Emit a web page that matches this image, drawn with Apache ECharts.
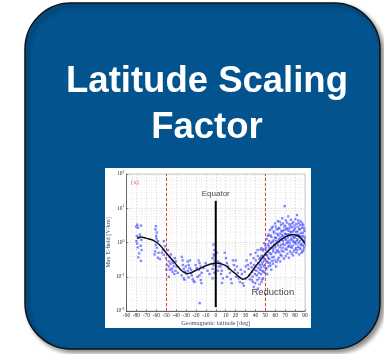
<!DOCTYPE html>
<html>
<head>
<meta charset="utf-8">
<script src="https://cdn.jsdelivr.net/npm/echarts@6/dist/echarts.min.js"></script>
<style>
html,body{margin:0;padding:0;background:#ffffff;}
#chart{width:384px;height:354px;}
</style>
</head>
<body>
<div id="chart"></div>
<script>
// ---- Data ----
const titleLines = ['Latitude Scaling', 'Factor'];
const xTickMin = -90, xTickMax = 90, xTickStep = 10;
const yMin = 0.01, yMax = 100;
const xAxisName = 'Geomagnetic latitude [deg]';
const yAxisName = 'Max E-field [V/km]';
const dashedLatitudes = [-50, 50];
const equatorLine = [[0, 16.5], [0, 0.013]];
// fitted curve (latitude, E-field)
const curveLat = [-79, -76, -70, -62, -56, -50, -45, -41, -37, -33, -29, -25, -20, -15, -10, -5, 0, 5, 10, 15, 20, 24, 28, 32, 36, 40, 45, 50, 55, 60, 65, 70, 74, 78, 82, 86, 90];
const curveE   = [1.28, 1.45, 1.32, 1.12, 0.82, 0.5, 0.34, 0.25, 0.18, 0.14, 0.125, 0.13, 0.155, 0.18, 0.21, 0.235, 0.25, 0.24, 0.21, 0.16, 0.122, 0.097, 0.085, 0.097, 0.135, 0.2, 0.3, 0.46, 0.66, 0.88, 1.15, 1.45, 1.62, 1.72, 1.6, 1.3, 0.93];
// observed maxima, southern high latitudes (latitude, E-field)
const obsSouth = [
[-80.2,2.9],[-79.1,3.3],[-78.4,2.7],[-75.3,3.1],[-79.6,1.55],[-78.2,1.38],[-76.4,1.7],[-75.1,1.2],[-79.3,0.92],[-78.7,0.72],[-75.6,0.8],[-77.2,0.48],[-78.1,0.37],[-75.4,0.29],[-80.0,1.1],[-74.6,0.6],
[-60.3,3.0],[-60.8,2.4],[-59.4,1.95],[-60.1,1.55],[-59.8,1.3],[-58.2,1.1],[-59.3,0.7],[-61.2,0.55],[-58.4,0.36],[-56.3,0.33],[-61.7,0.45],[-60.5,0.85],[-57.6,0.5],
[-52.3,1.1],[-51.2,0.78],[-52.4,0.44],[-50.3,0.35],[-49.2,0.22],[-47.4,0.28],[-47.1,0.2],[-46.3,0.16],[-47.3,0.10],[-45.2,0.45],[-44.4,0.3],[-43.1,0.25],[-42.3,0.2],[-44.2,0.17],[-41.3,0.35],[-40.2,0.28],[-39.4,0.2],[-40.6,0.15],[-38.3,0.13],[-53.2,0.6],[-54.4,0.5],[-48.3,0.6],[-46.4,0.38],[-43.6,0.14],[-45.7,0.24],[-49.8,0.16],[-41.8,0.12]
];
// observed maxima, low latitudes
const obsLow = [
[-34.2,0.38],[-33.4,0.3],[-33.1,0.22],[-32.3,0.17],[-31.2,0.14],[-34.4,0.11],[-32.2,0.09],[-31.4,0.081],[-28.3,0.28],[-27.2,0.22],[-26.4,0.18],[-28.1,0.15],[-25.3,0.13],[-24.2,0.11],[-27.4,0.095],[-23.3,0.085],[-22.2,0.075],[-21.4,0.07],[-26.1,0.3],[-29.3,0.12],[-30.2,0.2],[-24.7,0.16],
[-17.2,0.3],[-16.4,0.25],[-15.3,0.2],[-17.1,0.16],[-14.2,0.13],[-16.3,0.11],[-15.1,0.08],[-14.4,0.065],[-16.2,0.017],[-20.3,0.22],[-19.1,0.18],[-12.4,0.18],[-10.2,0.25],[-8.3,0.15],[-6.2,0.12],[-18.4,0.1],
[-2.3,0.87],[-1.4,0.6],[-2.1,0.45],[-1.2,0.4],[-3.3,0.35],[-1.1,0.3],[-2.4,0.22],[-3.1,0.17],[-1.3,0.13],[-3.2,0.09],[1.2,0.5],[2.3,0.28],[3.1,0.2],[2.2,0.15],
[4.3,0.25],[5.2,0.2],[6.1,0.15],[5.4,0.12],[7.2,0.09],[6.3,0.066],[9.1,0.5],[10.3,0.35],[11.2,0.25],[12.4,0.2],[13.1,0.17],[14.3,0.13],[11.4,0.1],[15.2,0.085],[16.1,0.065],[17.3,0.3],[18.2,0.22],[19.4,0.16],[20.1,0.3],[21.3,0.2],[22.2,0.13],[20.4,0.1],[23.1,0.09],[24.3,0.07],[25.2,0.16],[26.4,0.12],[27.1,0.065],[28.3,0.055],[29.2,0.14],[30.1,0.2],[30.4,0.09],
[31.2,0.3],[32.3,0.22],[33.1,0.17],[33.6,0.11],[34.2,0.085],[35.1,0.45],[35.4,0.25],[36.2,0.19],[36.7,0.14],[37.1,0.1],[37.5,0.07],[38.2,0.35],[38.6,0.22],[39.1,0.16],[39.5,0.12],[40.2,0.5],[40.4,0.3],[40.8,0.2],[41.1,0.15],[41.5,0.11],[41.8,0.08],[42.2,0.6],[42.5,0.4],[42.9,0.25],[43.2,0.18],[43.5,0.13],[43.8,0.09],[44.1,0.33],[44.4,0.22],[44.7,0.16],
[38.3,0.05],[42.4,0.045],[44.2,0.06],[46.2,0.07],[39.8,0.065],[36.4,0.08]
];
// observed maxima, northern high latitudes
const obsNorth = [
[45.4,0.62],[45.9,0.19],[46.3,0.41],[46.8,0.083],[47.2,0.27],[47.6,0.58],[48.1,0.14],[48.5,0.35],[48.9,0.95],[49.3,0.22],[49.7,0.47],[50.2,0.31],[50.6,0.71],[51.1,0.17],[51.4,1.25],[51.8,0.42],[52.3,0.26],[52.6,0.88],[53.0,0.53],[53.4,1.7],[53.9,0.33],[54.2,0.67],[54.7,2.3],[55.1,0.21],[55.5,0.96],[55.8,0.46],[56.2,1.45],[56.6,0.29],[57.1,0.74],[57.4,2.9],[57.9,0.55],[58.3,1.15],[58.6,0.38],[59.0,1.9],[59.5,0.81],[59.8,3.6],[60.3,0.49],[60.7,1.35],[61.1,0.27],[61.4,2.4],[61.9,0.93],[62.3,0.6],[62.6,4.2],[63.0,1.6],[63.5,0.36],[63.8,1.05],[64.2,2.7],[64.7,0.72],[65.1,1.85],[65.4,0.44],[65.9,3.3],[66.3,1.2],[66.6,0.58],[67.0,5.1],[67.5,2.1],[67.8,0.9],[68.2,1.5],[68.7,0.34],[69.1,2.9],[69.4,11.5],[69.9,1.3],[70.3,0.66],[70.6,4.4],[71.0,1.75],[71.5,0.95],[71.8,2.6],[72.2,0.47],[72.7,1.4],[73.1,5.8],[73.4,2.2],[73.9,0.8],[74.3,3.4],[74.6,1.15],[75.0,0.55],[75.5,2.05],[75.8,4.6],[76.2,1.3],[76.7,0.7],[77.1,2.8],[77.4,1.6],[77.9,0.42],[78.3,3.9],[78.6,1.05],[79.0,2.3],[79.5,0.62],[79.8,1.4],[80.3,4.8],[80.7,0.9],[81.1,2.0],[81.4,0.5],[81.9,6.3],[82.3,1.25],[82.6,2.9],[83.0,0.75],[83.5,1.7],[83.8,3.7],[84.2,0.45],[84.7,1.1],[85.1,2.4],[85.4,0.65],[85.9,4.1],[86.3,1.45],[86.6,0.9],[87.0,2.7],[87.5,0.55],[87.8,1.9],[88.2,3.2],[88.7,1.05],[89.1,0.7],[89.4,2.2],[89.8,1.4],
[45.1,0.36],[45.7,0.12],[46.1,0.68],[46.5,0.23],[47.0,0.15],[47.4,0.39],[47.8,0.09],[48.3,0.64],[48.7,0.2],[49.1,0.3],[49.5,0.13],[49.9,0.85],[50.4,0.18],[50.8,0.43],[51.2,0.58],[51.6,0.28],[52.0,0.12],[52.5,1.55],[52.9,0.36],[53.2,0.2],[53.6,0.78],[54.0,1.1],[54.4,0.25],[54.9,0.48],[55.3,1.6],[55.7,0.68],[56.0,0.16],[56.4,2.6],[56.9,0.37],[57.2,1.05],[57.7,0.24],[58.0,0.64],[58.4,2.1],[58.9,0.87],[59.2,0.3],[59.7,1.4],[60.1,0.72],[60.5,2.9],[60.9,0.2],[61.2,1.1],[61.7,0.55],[62.1,1.8],[62.5,0.31],[62.8,0.82],[63.2,2.5],[63.7,1.25],[64.0,0.52],[64.5,4.0],[64.9,0.28],[65.3,1.4],[65.7,0.85],[66.1,2.2],[66.4,0.4],[66.8,1.65],[67.3,0.7],[67.7,3.6],[68.0,1.1],[68.4,0.55],[68.9,2.35],[69.3,0.85],[69.7,1.8],[70.1,3.1],[70.5,0.4],[70.9,1.2],[71.3,2.4],[71.7,0.62],[72.0,3.8],[72.5,1.05],[72.9,0.75],[73.3,1.75],[73.7,0.36],[74.1,2.6],[74.5,0.95],[74.9,1.6],[75.3,3.0],[75.6,0.75],[76.0,1.95],[76.5,0.48],[76.9,3.6],[77.3,1.15],[77.6,0.82],[78.0,2.1],[78.5,1.4],[78.8,0.55],[79.3,3.1],[79.7,1.0],[80.0,2.6],[80.5,1.6],[80.9,0.68],[81.3,3.5],[81.7,1.1],[82.0,0.6],[82.4,2.1],[82.9,1.6],[83.3,4.4],[83.6,0.95],[84.0,2.5],[84.5,0.68],[84.9,1.55],[85.3,3.2],[85.7,0.85],[86.0,1.9],[86.5,0.5],[86.9,1.25],[87.3,3.6],[87.7,0.8],[88.0,1.55],[88.5,0.6],[88.9,2.6],[89.3,1.15],[89.6,0.85]
];
// annotations (text, latitude, E-field)
const annotations = [
  {text: 'Equator', lat: 0, e: 27},
  {text: 'Reduction', lat: 57.5, e: 0.036},
  {text: '(a)', lat: -81.5, e: 57}
];

// ---- Build ----
const curveData = curveLat.map((x, i) => [x, curveE[i]]);
const observations = obsSouth.concat(obsLow, obsNorth);
const minorGrid = [];
for (let k = -2; k < 2; k++) {
  for (let m = 2; m <= 9; m++) minorGrid.push({yAxis: m * Math.pow(10, k)});
}

const chart = echarts.init(document.getElementById('chart'), null, {renderer: 'canvas'});
chart.setOption({
  animation: false,
  backgroundColor: '#ffffff',
  title: {
    text: titleLines.join('\n'),
    left: 202,
    top: 54,
    textAlign: 'center',
    textStyle: {color: '#ffffff', fontFamily: 'Liberation Sans', fontWeight: 'bold', fontSize: 36.5, lineHeight: 46}
  },
  graphic: {
    elements: [
      {type: 'rect', z: -10, shape: {x: 25, y: 3, width: 355, height: 346, r: 46},
       style: {fill: '#02538e', stroke: '#111111', lineWidth: 1.5, shadowBlur: 4, shadowOffsetX: 3, shadowOffsetY: 3, shadowColor: 'rgba(0,0,0,0.45)'}},
      {type: 'rect', z: -9, shape: {x: 105, y: 168, width: 206, height: 160},
       style: {fill: '#ffffff'}}
    ]
  },
  grid: {left: 126.5, right: 79, top: 174, bottom: 43, show: true, borderColor: '#999', borderWidth: 0.5, backgroundColor: 'transparent'},
  xAxis: {
    type: 'value', min: xTickMin, max: xTickMax, interval: xTickStep,
    name: xAxisName, nameLocation: 'middle', nameGap: 9,
    nameTextStyle: {fontFamily: 'Liberation Serif', fontSize: 6.3, color: '#3a4a6a'},
    axisLine: {onZero: false, lineStyle: {color: '#444', width: 0.8}},
    axisTick: {inside: true, length: 2, lineStyle: {color: '#444', width: 0.5}},
    axisLabel: {fontFamily: 'Liberation Serif', fontSize: 5.5, color: '#333', margin: 1.5},
    splitLine: {show: true, lineStyle: {color: '#c8c8c8', width: 0.6, type: [1.5, 1.5]}},
    minorTick: {show: false, splitNumber: 2},
    minorSplitLine: {show: true, lineStyle: {color: '#e2e2e2', width: 0.5, type: [1, 1.5]}}
  },
  yAxis: {
    type: 'log', logBase: 10, min: yMin, max: yMax,
    name: yAxisName, nameLocation: 'middle', nameGap: 13,
    nameTextStyle: {fontFamily: 'Liberation Serif', fontSize: 6.3, color: '#3a4a6a'},
    axisLine: {show: true, onZero: false, lineStyle: {color: '#444', width: 0.8}},
    axisTick: {inside: true, length: 2, lineStyle: {color: '#444', width: 0.5}},
    axisLabel: {
      margin: 2,
      formatter: function (v) { const e = Math.round(Math.log10(v)); return '{b|10}{s|' + e + '}'; },
      rich: {
        b: {fontFamily: 'Liberation Serif', fontSize: 5.5, color: '#333'},
        s: {fontFamily: 'Liberation Serif', fontSize: 4, color: '#333', padding: [0, 0, 4, 0]}
      }
    },
    splitLine: {show: true, lineStyle: {color: '#c8c8c8', width: 0.6, type: [1.5, 1.5]}}
  },
  series: [
    {
      name: 'grid-minor', type: 'line', data: [], silent: true,
      markLine: {silent: true, symbol: 'none', label: {show: false},
        lineStyle: {color: '#e0e0e0', width: 0.5, type: [1, 1.5]}, data: minorGrid}
    },
    {
      name: 'observations', type: 'scatter', data: observations, symbol: 'rect', symbolSize: 2.4,
      itemStyle: {color: 'rgba(35,45,255,0.72)'}, z: 3
    },
    {
      name: 'boundaries', type: 'line', data: [], silent: true,
      markLine: {silent: true, symbol: 'none', label: {show: false},
        lineStyle: {color: '#e8412c', width: 1, type: [3, 2]},
        data: dashedLatitudes.map(v => ({xAxis: v}))}
    },
    {
      name: 'curve', type: 'line', data: curveData, smooth: 0.4, showSymbol: false,
      lineStyle: {color: '#111', width: 1.5}, z: 5
    },
    {
      name: 'equator', type: 'line', data: equatorLine, showSymbol: false,
      lineStyle: {color: '#000', width: 2}, z: 6
    },
    {
      name: 'annotations', type: 'scatter', symbolSize: 0, z: 7,
      data: annotations.map(a => ({value: [a.lat, a.e], name: a.text})),
      label: {
        show: true, position: 'inside',
        formatter: function (p) {
          if (p.name === '(a)') return '{r|(a)}';
          if (p.name === 'Reduction') return '{big|Reduction}';
          return '{mid|' + p.name + '}';
        },
        rich: {
          r: {fontFamily: 'Liberation Serif', fontSize: 7, color: '#d9443a'},
          big: {fontFamily: 'Liberation Sans', fontSize: 9.5, color: '#111'},
          mid: {fontFamily: 'Liberation Sans', fontSize: 8, color: '#111'}
        }
      }
    }
  ]
});
</script>
</body>
</html>
